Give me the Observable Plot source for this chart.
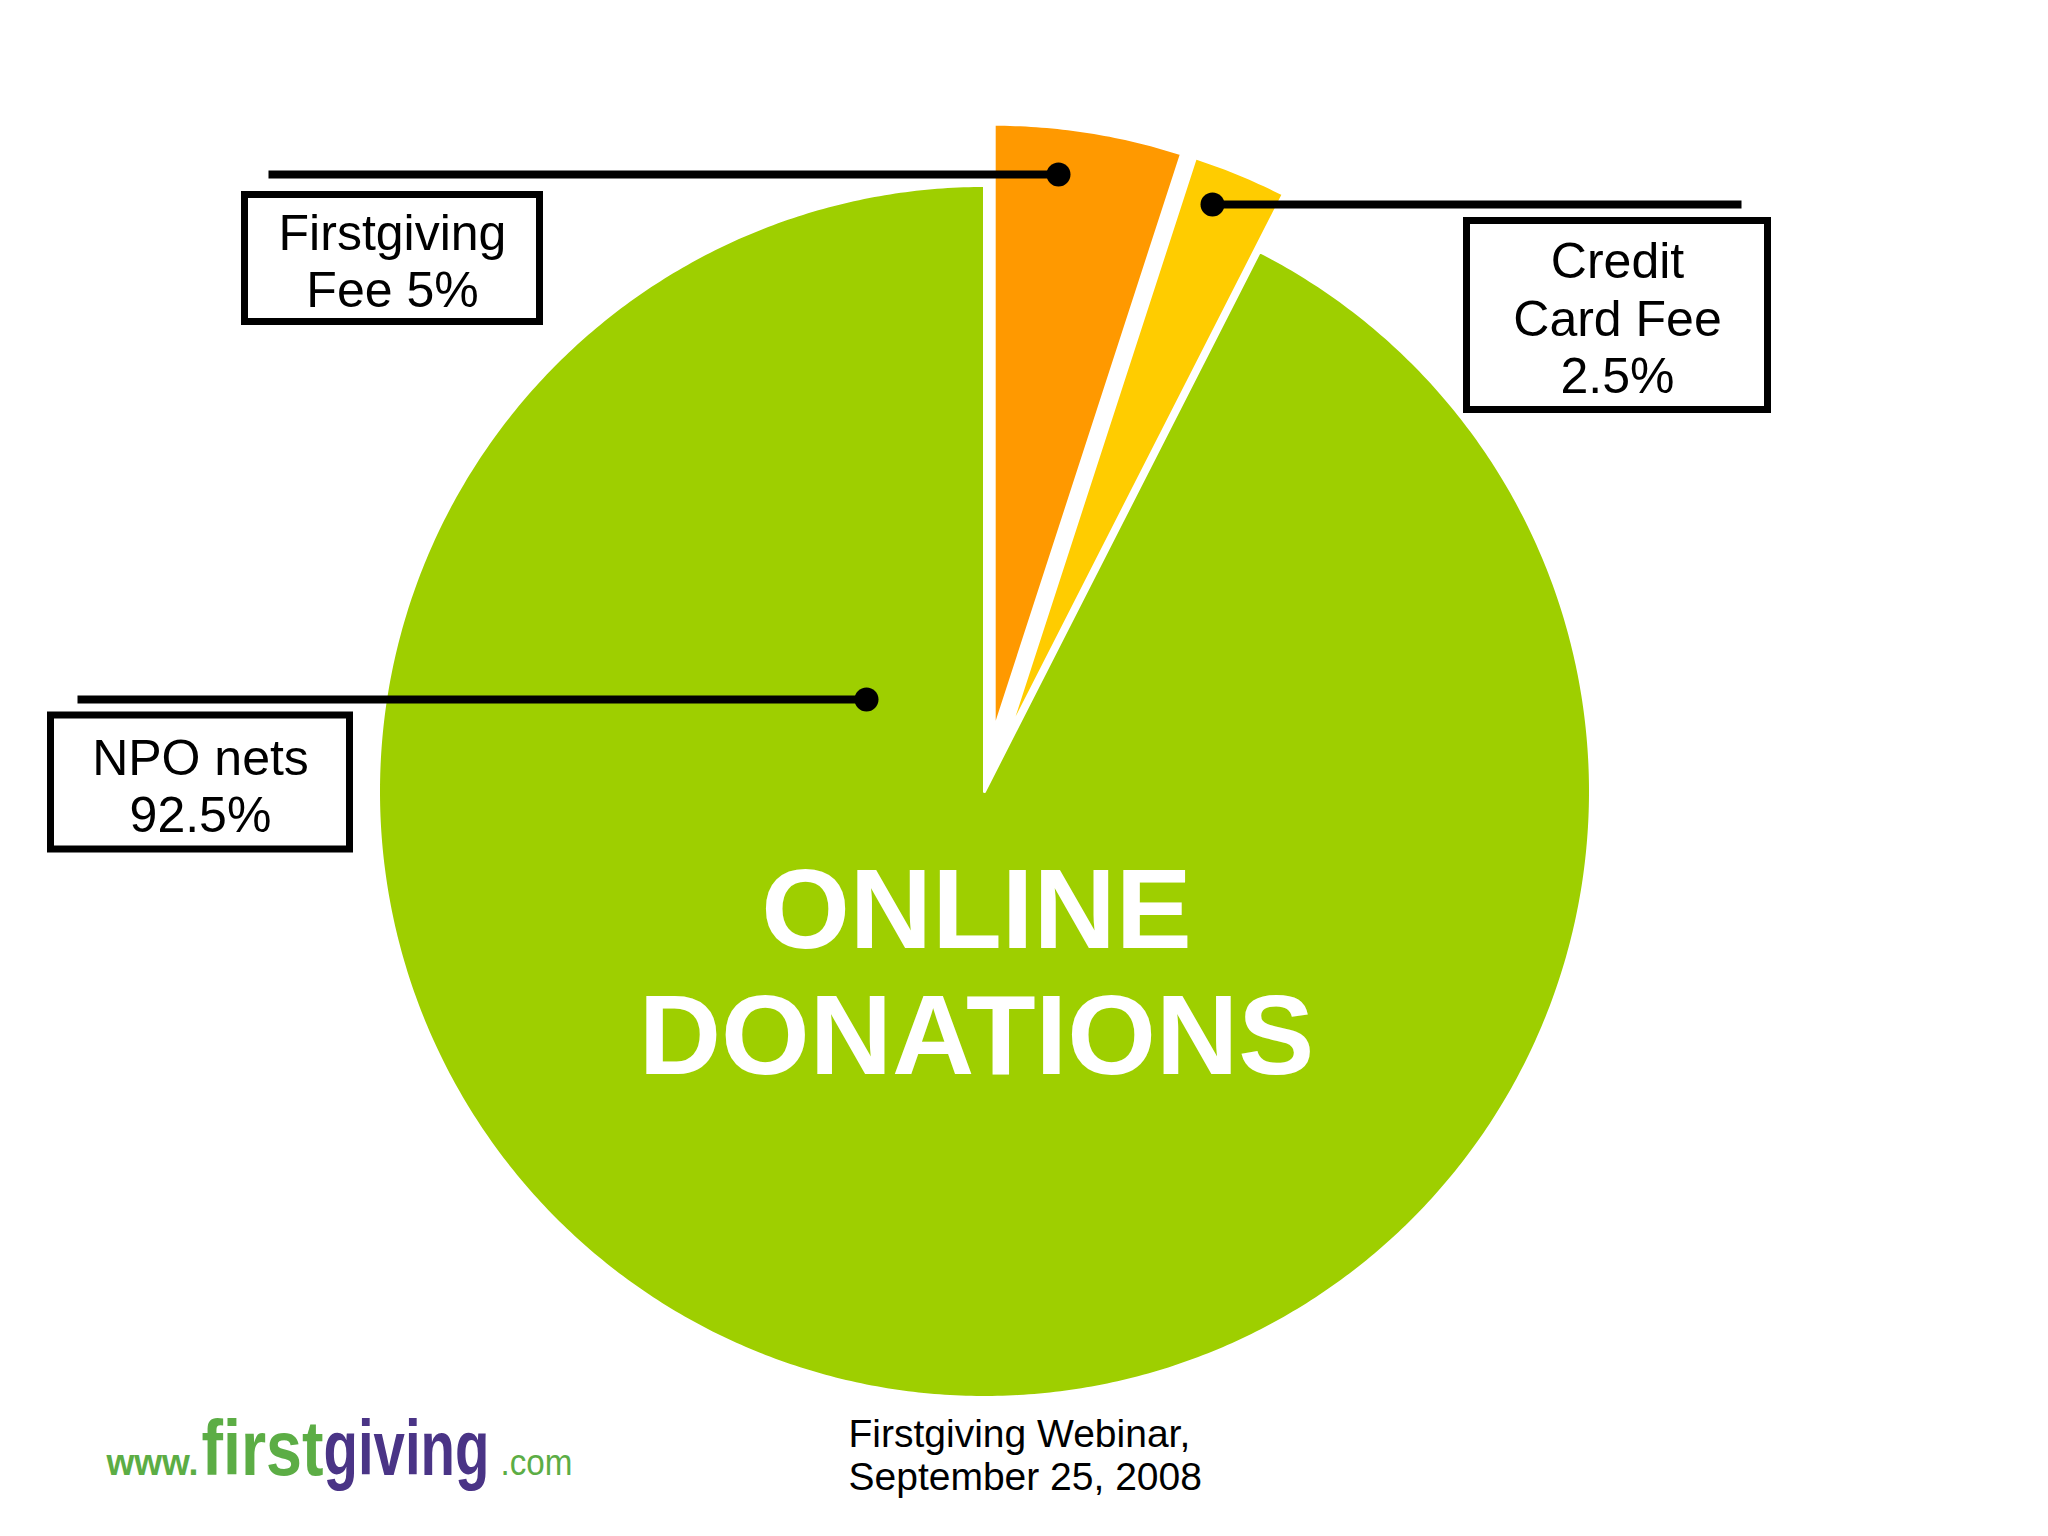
<!DOCTYPE html>
<html>
<head>
<meta charset="utf-8">
<script src="https://cdn.jsdelivr.net/npm/d3@7"></script>
<script src="https://cdn.jsdelivr.net/npm/@observablehq/plot@0.6"></script>
<style>
  html, body { margin: 0; padding: 0; background: #ffffff; }
  #chart svg { display: block; }
</style>
</head>
<body>
<div id="chart"></div>
<script>
// ---------- data ----------
const categories = ["Firstgiving Fee", "Credit Card Fee", "NPO nets"];
const shares = [5, 2.5, 92.5];
const labelTexts = ["Firstgiving\nFee 5%", "Credit\nCard Fee\n2.5%", "NPO nets\n92.5%"];
const sliceColors = ["#FF9900", "#FFCC00", "#9ECF00"];
const exploded = [true, true, false];
const centerTitle = "ONLINE\nDONATIONS";
const footnote = "Firstgiving Webinar,\nSeptember 25, 2008";
const logoParts = ["www.", "first", "giving", ".com"];
const logoColors = ["#5CAD45", "#5CAD45", "#4A3486", "#5CAD45"];

// ---------- layout ----------
const W = 2048, H = 1536;
const cx = 984, cy = 791, R = 606, explodeDist = 62;
const font = "'Liberation Sans', Arial, Helvetica, sans-serif";

const slices = d3.pie().sort(null).value((d) => d.value)(
  categories.map((c, i) => ({category: c, value: shares[i], color: sliceColors[i], explode: exploded[i]}))
);

const slicePoints = slices.flatMap((s, i) => {
  const mid = (s.startAngle + s.endAngle) / 2;
  const off = s.data.explode ? explodeDist : 0;
  const ox = cx + off * Math.sin(mid), oy = cy - off * Math.cos(mid);
  const n = Math.max(8, Math.ceil((s.endAngle - s.startAngle) / (Math.PI / 360)));
  const pts = [{x: ox, y: oy}];
  for (let k = 0; k <= n; k++) {
    const a = s.startAngle + (s.endAngle - s.startAngle) * k / n;
    pts.push({x: ox + R * Math.sin(a), y: oy - R * Math.cos(a)});
  }
  pts.push({x: ox, y: oy});
  return pts.map((p) => ({...p, slice: i, order: s.data.explode ? 1 : 0, color: s.data.color}));
});
const drawOrder = [...slicePoints.filter(d => d.order === 0), ...slicePoints.filter(d => d.order === 1)];

// label boxes (annotation layout)
const boxLayout = [
  {cx: 392, cy: 258, w: 302, h: 134, ty: 259.5},
  {cx: 1617, cy: 315, w: 308, h: 196, ty: 317},
  {cx: 200, cy: 782, w: 306, h: 141, ty: 784.5}
];
const leaderLayout = [
  {x1: 268, x2: 1058, y: 174, dotX: 1058},
  {x1: 1212, x2: 1741, y: 204, dotX: 1212},
  {x1: 77, x2: 866, y: 699, dotX: 866}
];
const bw = 7;
const boxes = labelTexts.map((t, i) => ({text: t, ...boxLayout[i]}));
const leaders = labelTexts.map((t, i) => leaderLayout[i]);

// logo: one text element, styled per word afterwards
const logoLayout = [
  {x: 106, w: 92, size: 36, weight: "bold"},
  {x: 201, w: 122, size: 78, weight: "bold"},
  {x: 323, w: 166, size: 78, weight: "bold"},
  {x: 500, w: 72, size: 36, weight: "normal"}
];
const logoBaseline = 1474;
const logoText = logoParts.join("");

const plot = Plot.plot({
  width: W,
  height: H,
  margin: 0,
  style: {background: "#ffffff", fontFamily: font},
  x: {domain: [0, W], range: [0, W], axis: null},
  y: {domain: [0, H], range: [0, H], axis: null},
  color: {type: "identity"},
  marks: [
    Plot.line(drawOrder, {
      x: "x", y: "y", z: "slice", fill: "color",
      stroke: "#ffffff", strokeWidth: 3, strokeLinejoin: "round", curve: "linear"
    }),
    // label boxes
    Plot.rect(boxes, {
      x1: d => d.cx - d.w / 2 + bw / 2, x2: d => d.cx + d.w / 2 - bw / 2,
      y1: d => d.cy - d.h / 2 + bw / 2, y2: d => d.cy + d.h / 2 - bw / 2,
      fill: "#ffffff", stroke: "#000000", strokeWidth: bw
    }),
    Plot.text(boxes, {
      x: "cx", y: "ty", text: "text", fontSize: 50, lineHeight: 1.15,
      textAnchor: "middle", lineAnchor: "middle", fill: "#000000", fontFamily: font
    }),
    // leader lines
    Plot.link(leaders, {
      x1: "x1", x2: "x2", y1: "y", y2: "y", stroke: "#000000", strokeWidth: 8
    }),
    Plot.dot(leaders, {x: "dotX", y: "y", r: 12, fill: "#000000", stroke: "none"}),
    // center title
    Plot.text([centerTitle], {
      x: () => 976, y: () => 970, text: d => d, fontSize: 114, fontWeight: "bold",
      lineHeight: 1.11, fill: "#ffffff", textAnchor: "middle", lineAnchor: "middle", fontFamily: font
    }),
    // footnote
    Plot.text([footnote], {
      x: () => 848, y: () => 1454, text: d => d, fontSize: 39, lineHeight: 1.1,
      fill: "#000000", textAnchor: "start", lineAnchor: "middle", fontFamily: font
    }),
    // logo (single text, restyled below)
    Plot.text([logoText], {
      x: () => logoLayout[0].x, y: () => logoBaseline - 0.32 * 36, text: d => d,
      fontSize: 36, fill: logoColors[0], textAnchor: "start", lineAnchor: "middle", fontFamily: font
    })
  ]
});

document.getElementById("chart").appendChild(plot);

// split the logo text into coloured, sized words
d3.select(plot).selectAll("text").each(function () {
  if (this.textContent !== logoText) return;
  const el = d3.select(this);
  el.text(null).attr("dy", null).attr("y", null);
  // keep the transform Plot set (x,y) but place words absolutely in user space
  el.attr("transform", null);
  logoParts.forEach((part, i) => {
    const L = logoLayout[i];
    el.append("tspan")
      .attr("x", L.x)
      .attr("y", logoBaseline)
      .attr("font-size", L.size)
      .attr("font-weight", L.weight)
      .attr("fill", logoColors[i])
      .attr("textLength", L.w)
      .attr("lengthAdjust", "spacingAndGlyphs")
      .text(part);
  });
});
</script>
</body>
</html>
